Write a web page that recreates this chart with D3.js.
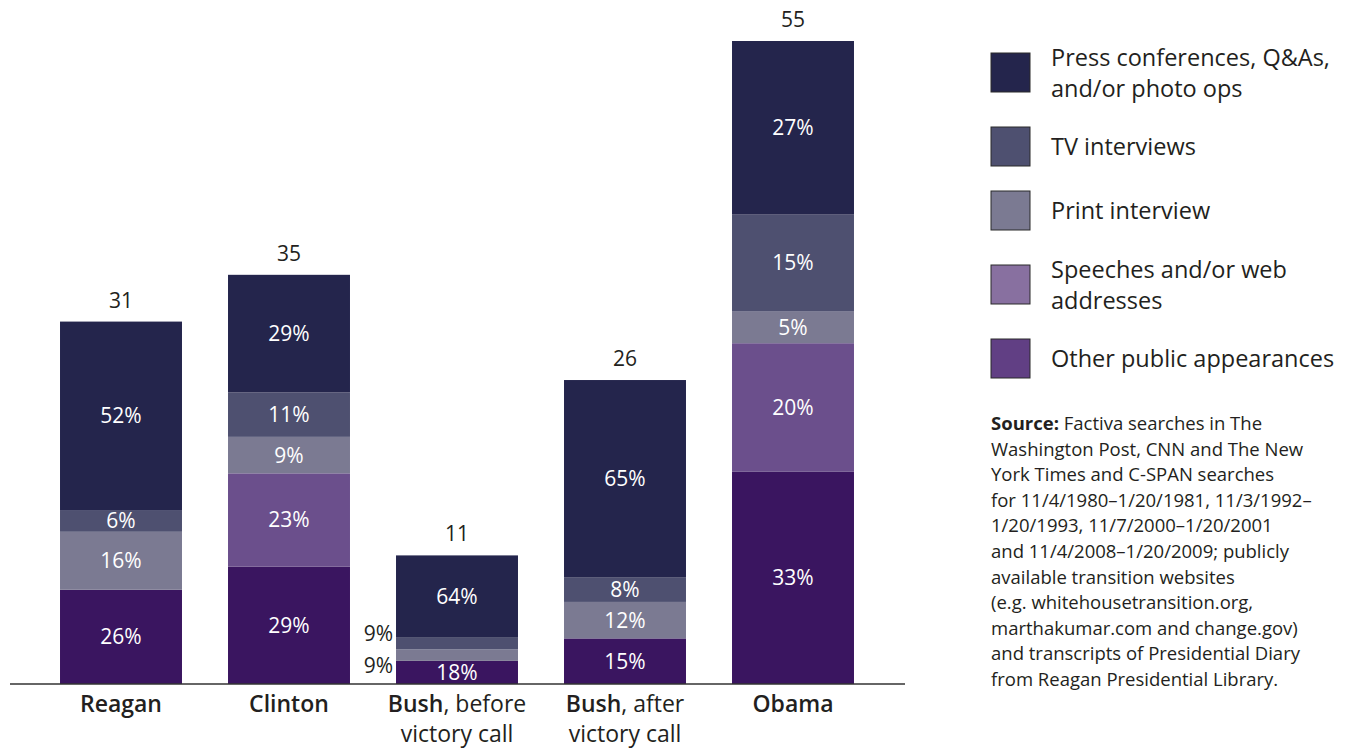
<!DOCTYPE html>
<html>
<head>
<meta charset="utf-8">
<script src="https://cdn.jsdelivr.net/npm/d3@7"></script>
<style>
  body { margin: 0; background: #fff; }
  svg { font-family: "Open Sans", sans-serif; }
</style>
</head>
<body>
<div id="chart"></div>
<script>
// categories (bold name, rest of first line, second line)
const names = ["Reagan", "Clinton", "Bush", "Bush", "Obama"];
const nameRest = ["", "", ", before", ", after", ""];
const nameLine2 = ["", "", "victory call", "victory call", ""];
const totals = [31, 35, 11, 26, 55];

const seriesNames = [
  "Press conferences, Q&As, and/or photo ops",
  "TV interviews",
  "Print interview",
  "Speeches and/or web addresses",
  "Other public appearances"
];
// percent shares, per category
const press = [52, 29, 64, 65, 27];
const tv = [6, 11, 9, 8, 15];
const print = [16, 9, 9, 12, 5];
const speeches = [0, 23, 0, 0, 20];
const other = [26, 29, 18, 15, 33];

const sourceLines = [
  "Factiva searches in The",
  "Washington Post, CNN and The New",
  "York Times and C-SPAN searches",
  "for 11/4/1980\u20131/20/1981, 11/3/1992\u2013",
  "1/20/1993, 11/7/2000\u20131/20/2001",
  "and 11/4/2008\u20131/20/2009; publicly",
  "available transition websites",
  "(e.g. whitehousetransition.org,",
  "marthakumar.com and change.gov)",
  "and transcripts of Presidential Diary",
  "from Reagan Presidential Library."
];

const width = 1359;
const height = 750;
const keys = ["other", "speeches", "print", "tv", "press"];
const barColors = {
  press: "#24254c", tv: "#4e5070", print: "#7b7a92",
  speeches: "#6b4f8c", other: "#3a1560"
};
const legendKeys = ["press", "tv", "print", "speeches", "other"];
const legendColors = ["#24254c", "#4e5070", "#7b7a92", "#8870a0", "#613f84"];
const legendLines = [
  ["Press conferences, Q&As,", "and/or photo ops"],
  ["TV interviews"],
  ["Print interview"],
  ["Speeches and/or web", "addresses"],
  ["Other public appearances"]
];

// table: each segment is a share of the bar total
const rows = names.map((n, i) => {
  const pct = { press: press[i], tv: tv[i], print: print[i], speeches: speeches[i], other: other[i] };
  const sum = d3.sum(keys, (k) => pct[k]);
  const row = { i: i, total: totals[i], pct: pct };
  keys.forEach((k) => (row[k] = (totals[i] * pct[k]) / sum));
  return row;
});

const svg = d3.select("#chart").append("svg")
  .attr("width", width).attr("height", height);

const x = d3.scaleBand()
  .domain(d3.range(names.length))
  .range([37, 877])
  .paddingInner(0.274)
  .paddingOuter(0.137);

const y = d3.scaleLinear().domain([0, 55]).range([684, 41]);

const stacked = d3.stack().keys(keys)(rows);

const layers = svg.append("g").selectAll("g")
  .data(stacked)
  .join("g")
  .attr("fill", (s) => barColors[s.key]);

layers.selectAll("rect")
  .data((s) => s.map((d) => Object.assign(d, { key: s.key })))
  .join("rect")
  .attr("x", (d) => x(d.data.i))
  .attr("y", (d) => y(d[1]))
  .attr("width", x.bandwidth())
  .attr("height", (d) => y(d[0]) - y(d[1]));

// segment labels
const segs = stacked.flatMap((s) => s.filter((d) => d.data.pct[s.key] > 0));
svg.append("g").selectAll("text")
  .data(segs)
  .join("text")
  .each(function (d) {
    const h = y(d[0]) - y(d[1]);
    const cy = (y(d[0]) + y(d[1])) / 2;
    const t = d3.select(this);
    if (h < 18) {
      t.attr("x", x(d.data.i) - 3)
        .attr("y", cy + (d.key === "tv" ? -10 : 10))
        .attr("text-anchor", "end")
        .attr("fill", "#231f20");
    } else {
      t.attr("x", x(d.data.i) + x.bandwidth() / 2)
        .attr("y", cy)
        .attr("text-anchor", "middle")
        .attr("fill", "#fff");
    }
  })
  .attr("dy", "0.36em")
  .attr("font-size", 21)
  .text((d) => d.data.pct[d.key] + "%");

// totals
svg.append("g").selectAll("text")
  .data(rows)
  .join("text")
  .attr("x", (d) => x(d.i) + x.bandwidth() / 2)
  .attr("y", (d) => y(d.total) - 14)
  .attr("text-anchor", "middle")
  .attr("font-size", 21)
  .attr("fill", "#231f20")
  .text((d) => d.total);

// baseline
svg.append("line")
  .attr("x1", 10).attr("x2", 905)
  .attr("y1", y(0)).attr("y2", y(0))
  .attr("stroke", "#333").attr("stroke-width", 1.5);

// category labels
const cat = svg.append("g").selectAll("text")
  .data(rows)
  .join("text")
  .attr("x", (d) => x(d.i) + x.bandwidth() / 2)
  .attr("y", 712)
  .attr("text-anchor", "middle")
  .attr("font-size", 23)
  .attr("fill", "#231f20");
cat.append("tspan").attr("font-weight", 600).text((d) => names[d.i]);
cat.append("tspan").text((d) => nameRest[d.i]);
cat.append("tspan")
  .attr("x", (d) => x(d.i) + x.bandwidth() / 2)
  .attr("dy", 30)
  .text((d) => nameLine2[d.i]);

// legend
let cy = 73;
const legend = svg.append("g");
legendKeys.forEach((k, i) => {
  const lines = legendLines[i];
  if (i > 0) cy += 64 + 10 * (lines.length - 1) + 10 * (legendLines[i - 1].length - 1);
  legend.append("rect")
    .attr("x", 991).attr("y", cy - 20)
    .attr("width", 39).attr("height", 39)
    .attr("fill", legendColors[i])
    .attr("stroke", "#2a2a2a").attr("stroke-width", 1);
  const t = legend.append("text")
    .attr("x", 1051)
    .attr("y", cy - (lines.length - 1) * 15.5)
    .attr("font-size", 23.5)
    .attr("fill", "#231f20");
  lines.forEach((l, j) => {
    t.append("tspan").attr("x", 1051).attr("dy", j === 0 ? "0.36em" : 31).text(l);
  });
});

// source note
const src = svg.append("text")
  .attr("x", 991).attr("y", 430)
  .attr("font-size", 18.5)
  .attr("fill", "#231f20");
sourceLines.forEach((l, j) => {
  const ts = src.append("tspan").attr("x", 991).attr("dy", j === 0 ? 0 : 25.6);
  if (j === 0) {
    ts.append("tspan").attr("font-weight", "bold").text("Source: ");
    ts.append("tspan").text(l);
  } else {
    ts.text(l);
  }
});
</script>
</body>
</html>
